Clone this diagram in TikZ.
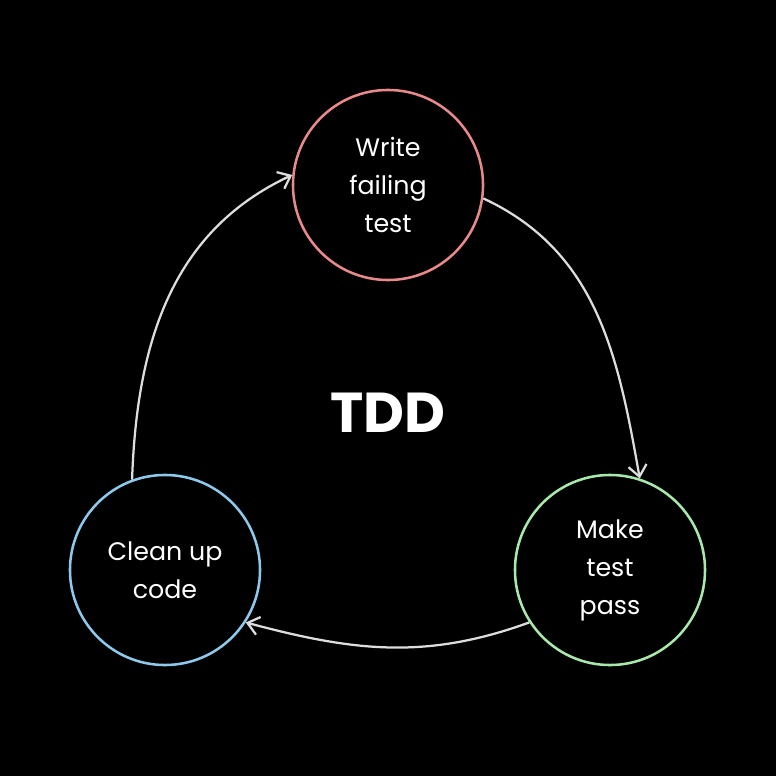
\documentclass[tikz,border=0pt]{standalone}
\usepackage{fontspec}
\setmainfont{Poppins}
\definecolor{writecol}{HTML}{E8898C}
\definecolor{passcol}{HTML}{A9E8AC}
\definecolor{cleancol}{HTML}{8EC9EC}
\definecolor{arrowcol}{HTML}{DDDDDD}
\tikzset{
  stage/.style={circle, draw, line width=1.8pt, minimum size=4.75cm, align=center, text=white, font=\fontsize{18}{27}\selectfont},
  cycarrow/.style={draw=arrowcol, line width=1.6pt, -{Straight Barb[length=8pt,width=13pt]}}
}
\usetikzlibrary{arrows.meta}
\begin{document}
\begin{tikzpicture}[x=0.025cm, y=-0.025cm]
	% background
	\fill[black] (0,0) rectangle (776,776);

	% stages
	\node[stage, draw=writecol] (write) at (388,185) {Write\\failing\\test};
	\node[stage, draw=passcol] (pass) at (610,570) {Make\\test\\pass};
	\node[stage, draw=cleancol] (clean) at (165,570) {Clean up\\code};
	\node[text=white, font=\fontsize{40}{44}\selectfont\bfseries] (tdd) at (388,413) {TDD};

	% cycle
	\draw[cycarrow] (write.-8) to[out=-25, in=100] (pass.72);
	\draw[cycarrow] (pass.213) to[out=200, in=-15] (clean.-33);
	\draw[cycarrow] (clean.110) to[out=88, in=205] (write.174);
\end{tikzpicture}
\end{document}
